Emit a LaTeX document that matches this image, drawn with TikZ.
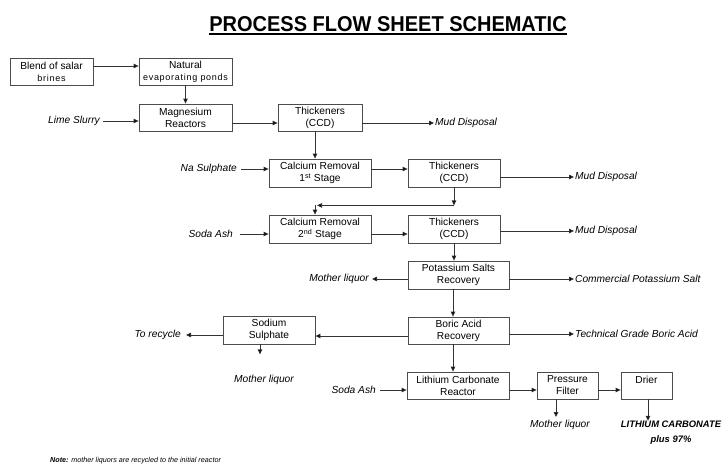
\documentclass[tikz,border=0pt]{standalone}
\usepackage{fontspec}
\setmainfont{Liberation Sans}
\newfontfamily\spacedsans[LetterSpace=8]{Liberation Sans}
\usetikzlibrary{arrows.meta}

\begin{document}
\begin{tikzpicture}[x=1pt,y=-1pt,
    box/.style={draw=black!70,line width=0.8pt,align=center,inner sep=0pt,minimum height=27pt,font=\fontsize{10.2}{12}\selectfont},
    lbl/.style={font=\fontsize{10.2}{12}\selectfont\itshape,inner sep=1pt},
    arr/.style={draw=black!80,line width=0.8pt,-{Triangle[length=5pt,width=4.5pt,fill=black]}}]
  \useasboundingbox (0,0) rectangle (723,466);

  \node[inner sep=0pt,font=\fontsize{21.5}{24}\selectfont\bfseries] (title) at (388,24) {\scalebox{0.93}[1]{PROCESS FLOW SHEET SCHEMATIC}};
  \draw[line width=1.8pt] ([yshift=-2.5pt]title.south west) -- ([yshift=-2.5pt]title.south east);

  \node[box,minimum width=83pt] (blend) at (51.5,71.5) {Blend of salar\\{\spacedsans\fontsize{9}{12}\selectfont brines}};
  \node[box,minimum width=93pt] (ponds) at (185.5,71.5) {Natural\\{\spacedsans\fontsize{9}{12}\selectfont evaporating ponds}};
  \node[box,minimum width=93pt] (mag) at (185.5,117.5) {Magnesium\\Reactors};
  \node[box,minimum width=84pt] (thk1) at (320,117.5) {Thickeners\\(CCD)};
  \node[box,minimum width=102pt,minimum height=28pt] (cal1) at (320,173) {Calcium Removal\\1\textsuperscript{st} Stage};
  \node[box,minimum width=92pt,minimum height=28pt] (thk2) at (454,173) {Thickeners\\(CCD)};
  \node[box,minimum width=102pt,minimum height=28pt] (cal2) at (320,229) {Calcium Removal\\2\textsuperscript{nd} Stage};
  \node[box,minimum width=92pt,minimum height=28pt] (thk3) at (454,229) {Thickeners\\(CCD)};
  \node[box,minimum width=101pt,minimum height=28pt] (pot) at (458.5,275) {Potassium Salts\\Recovery};
  \node[box,minimum width=101pt] (boric) at (458.5,330.5) {Boric Acid\\Recovery};
  \node[box,minimum width=92pt,minimum height=28pt] (sod) at (269,330) {Sodium\\Sulphate};
  \node[box,minimum width=102pt] (lith) at (458,385.5) {Lithium Carbonate\\Reactor};
  \node[box,minimum width=61pt] (filt) at (567.5,385.5) {Pressure\\Filter};
  \node[box,minimum width=51pt] (drier) at (646.5,385.5) {Drier\\\mbox{}};

  \node[lbl,anchor=east] (lime) at (101,121) {Lime Slurry};
  \node[lbl,anchor=west] (mud1) at (434,123) {Mud Disposal};
  \node[lbl,anchor=east] (na) at (238,169) {Na Sulphate};
  \node[lbl,anchor=west] (mud2) at (574,177) {Mud Disposal};
  \node[lbl,anchor=east] (soda1) at (234,234) {Soda Ash};
  \node[lbl,anchor=west] (mud3) at (574,231) {Mud Disposal};
  \node[lbl,anchor=east] (ml1) at (370,279) {Mother liquor};
  \node[lbl,anchor=west] (comm) at (574,279) {Commercial Potassium Salt};
  \node[lbl,anchor=east] (recycle) at (182,335) {To recycle};
  \node[lbl,anchor=west] (tech) at (574,334) {Technical Grade Boric Acid};
  \node[lbl] (ml2) at (264,380) {Mother liquor};
  \node[lbl,anchor=east] (soda2) at (377,390) {Soda Ash};
  \node[lbl] (ml3) at (560,425) {Mother liquor};
  \node[lbl,align=center,font=\fontsize{9.4}{14.5}\selectfont\bfseries\itshape] (lc) at (671,432.5) {LITHIUM CARBONATE\\plus 97\%};
  \node[anchor=west,inner sep=0pt,font=\fontsize{7.2}{9}\selectfont\itshape] (note) at (50,461) {\textbf{Note:} mother liquors are recycled to the initial reactor};

  \coordinate (bend) at ([yshift=-18pt]thk2.south);
  \coordinate (drop) at ([xshift=-5pt]cal2.north);
  \coordinate (ml2in) at ([xshift=-9pt,yshift=-10pt]sod.south);

  \draw[arr] ([yshift=5.5pt]blend.east) -- ([yshift=5.5pt]ponds.west);
  \draw[arr] (ponds.south) -- (mag.north);
  \draw[arr] ([xshift=2pt]lime.east) -- (lime.east -| mag.west);
  \draw[arr] ([yshift=-5.5pt]mag.east) -- ([yshift=-5.5pt]thk1.west);
  \draw[arr] (thk1.east |- mud1.west) -- (mud1.west);
  \draw[arr] ([xshift=-5pt]thk1.south) -- ([xshift=-5pt]cal1.north);
  \draw[arr] ([xshift=3pt]na.east) -- (na.east -| cal1.west);
  \draw[arr] ([yshift=4pt]cal1.east) -- ([yshift=4pt]thk2.west);
  \draw[arr] (thk2.east |- mud2.west) -- (mud2.west);
  \draw[arr] (thk2.south) -- (bend);
  \draw[arr] (bend) -- ([xshift=2pt]bend -| drop);
  \draw[arr] (bend -| drop) -- (drop);
  \draw[arr] ([xshift=6pt]soda1.east) -- (soda1.east -| cal2.west);
  \draw[arr] ([yshift=-5pt]cal2.east) -- ([yshift=-5pt]thk3.west);
  \draw[arr] (thk3.east |- mud3.west) -- (mud3.west);
  \draw[arr] (thk3.south) -- (thk3.south |- pot.north);
  \draw[arr] (pot.west |- ml1.east) -- ([xshift=2pt]ml1.east);
  \draw[arr] (pot.east |- comm.west) -- (comm.west);
  \draw[arr] ([xshift=-5.5pt]pot.south) -- ([xshift=-5.5pt]boric.north);
  \draw[arr] ([yshift=-5.5pt]boric.west) -- ([yshift=-5.5pt]boric.west -| sod.east);
  \draw[arr] (sod.west |- recycle.east) -- ([xshift=4pt]recycle.east);
  \draw[arr] ([xshift=-9pt]sod.south) -- (ml2in);
  \draw[arr] (boric.east |- tech.west) -- (tech.west);
  \draw[arr] ([xshift=-5.5pt]boric.south) -- ([xshift=-5.5pt]boric.south |- lith.north);
  \draw[arr] ([xshift=3pt]soda2.east) -- (soda2.east -| lith.west);
  \draw[arr] ([yshift=-4.5pt]lith.east) -- ([yshift=-4.5pt]filt.west);
  \draw[arr] ([yshift=-4.5pt]filt.east) -- ([yshift=-4.5pt]drier.west);
  \draw[arr] ([xshift=-11.5pt]filt.south) -- ([xshift=-11.5pt,yshift=2pt]filt.south |- ml3.north);
  \draw[arr] ([xshift=1.5pt]drier.south) -- ([xshift=1.5pt,yshift=-1pt]drier.south |- lc.north);
\end{tikzpicture}
\end{document}
